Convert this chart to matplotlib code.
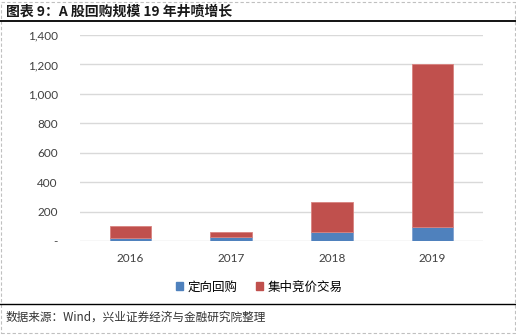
import matplotlib
matplotlib.use("Agg")
import matplotlib.pyplot as plt
from matplotlib.patches import Rectangle
from matplotlib.lines import Line2D
from matplotlib.ticker import FuncFormatter, MultipleLocator

plt.rcParams['font.family'] = ['Noto Sans CJK SC', 'DejaVu Sans']

years = ["2016", "2017", "2018", "2019"]
directed = [20, 27, 62, 96]          # 定向回购
centralized = [80, 33, 206, 1109]    # 集中竞价交易
series_names = ["定向回购", "集中竞价交易"]
title = "图表 9：A 股回购规模 19 年井喷增长"
source = "数据来源：Wind，兴业证券经济与金融研究院整理"

W, H = 516, 336
fig = plt.figure(figsize=(W / 100, H / 100), dpi=100)

def fx(px):
    return px / W

def fy(py):
    return 1 - py / H

ax = fig.add_axes([fx(80), fy(241), fx(483) - fx(80), fy(35) - fy(241)])

blue = "#4F81BD"
red = "#C0504D"
x = range(len(years))
ax.bar(x, directed, width=0.41, color=blue, edgecolor="#7FA0CF", linewidth=0.6, zorder=3)
ax.bar(x, centralized, bottom=directed, width=0.41, color=red, edgecolor="#D9837F",
       linewidth=0.6, zorder=3)

ax.set_xlim(-0.5, 3.5)
ax.set_ylim(0, 1400)
ax.yaxis.set_major_locator(MultipleLocator(200))
ax.yaxis.set_major_formatter(FuncFormatter(lambda v, p: "-" if v == 0 else f"{int(v):,}"))
ax.grid(axis="y", color="#D9D9D9", linewidth=1.0, zorder=0)
for s in ax.spines.values():
    s.set_visible(False)
ax.tick_params(axis="both", length=0, labelsize=8.5, colors="#404040")
ax.tick_params(axis="y", pad=16)
ax.tick_params(axis="x", pad=9)
ax.set_xticks(list(x))
ax.set_xticklabels(years)
for lab in ax.get_xticklabels() + ax.get_yticklabels():
    lab.set_fontfamily(["Lato", "DejaVu Sans"])

# legend
handles = [Rectangle((0, 0), 1, 1, color=blue), Rectangle((0, 0), 1, 1, color=red)]
fig.legend(handles, series_names, loc="center", bbox_to_anchor=(fx(259), fy(287)),
           ncol=2, frameon=False, fontsize=9, handlelength=0.6, handleheight=0.6,
           handletextpad=0.3, columnspacing=1.5)

# title and source with rules
fig.text(fx(6), fy(11.5), title, fontsize=10, fontweight="bold", va="center", ha="left",
         color="#1a1a1a")
fig.add_artist(Line2D([fx(0), fx(516)], [fy(21), fy(21)], color="black", linewidth=1.3))
fig.add_artist(Line2D([fx(0), fx(516)], [fy(304), fy(304)], color="black", linewidth=1.0))
fig.text(fx(6), fy(317), source, fontsize=8.4, va="center", ha="left", color="#333333")

# dashed frame
frame = Rectangle((fx(1), fy(333)), fx(514), fy(2) - fy(333), transform=fig.transFigure,
                  fill=False, edgecolor="#C0C0C0", linestyle=(0, (3, 2)), linewidth=0.8)
fig.add_artist(frame)

fig.savefig("out.png", dpi=100)
